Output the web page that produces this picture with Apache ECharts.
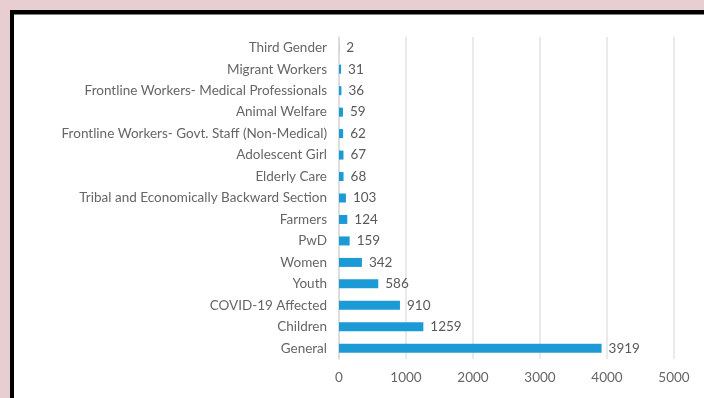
<!DOCTYPE html>
<html>
<head>
<meta charset="utf-8">
<script src="https://cdn.jsdelivr.net/npm/echarts@6/dist/echarts.min.js"></script>
<style>
html,body{margin:0;padding:0;background:#e8cdd1;}
#chart{width:704px;height:398px;}
</style>
</head>
<body>
<div id="chart"></div>
<script>
const categories = ["General","Children","COVID-19 Affected","Youth","Women","PwD","Farmers","Tribal and Economically Backward Section","Elderly Care","Adolescent Girl","Frontline Workers- Govt. Staff (Non-Medical)","Animal Welfare","Frontline Workers- Medical Professionals","Migrant Workers","Third Gender"];
const values = [3919,1259,910,586,342,159,124,103,68,67,62,59,36,31,2];
const xTicks = [0,1000,2000,3000,4000,5000];

const chart = echarts.init(document.getElementById('chart'));
const font = 'Lato';
chart.setOption({
  backgroundColor: '#e8cdd1',
  animation: false,
  graphic: [
    {type:'rect', z:-10, shape:{x:10,y:10,width:700,height:400}, style:{fill:'#000'}},
    {type:'rect', z:-9, shape:{x:14,y:14.5,width:700,height:400}, style:{fill:'#fff'}}
  ],
  grid: {left: 339, right: 30, top: 37, bottom: 39, containLabel: false},
  xAxis: {
    type: 'value', min: xTicks[0], max: xTicks[xTicks.length-1], interval: 1000,
    axisLine: {show:false}, axisTick: {show:false},
    splitLine: {lineStyle:{color:'#e3e3e3', width:1.5}},
    axisLabel: {color:'#666', fontFamily: font, fontSize: 13.5, margin: 12,
      formatter: function(v){ return String(v); }}
  },
  yAxis: {
    type: 'category', data: categories,
    axisLine: {show:true, lineStyle:{color:'#d9d9d9', width:1.5}},
    axisTick: {show:false},
    axisLabel: {color:'#666', fontFamily: font, fontSize: 13.5, margin: 12}
  },
  series: [{
    type: 'bar', data: values, barWidth: 9,
    itemStyle: {color:'#1b9ad6'},
    label: {show:true, position:'right', distance:7, color:'#5a5a5a', fontFamily: font, fontSize: 13.5}
  }]
});
</script>
</body>
</html>
